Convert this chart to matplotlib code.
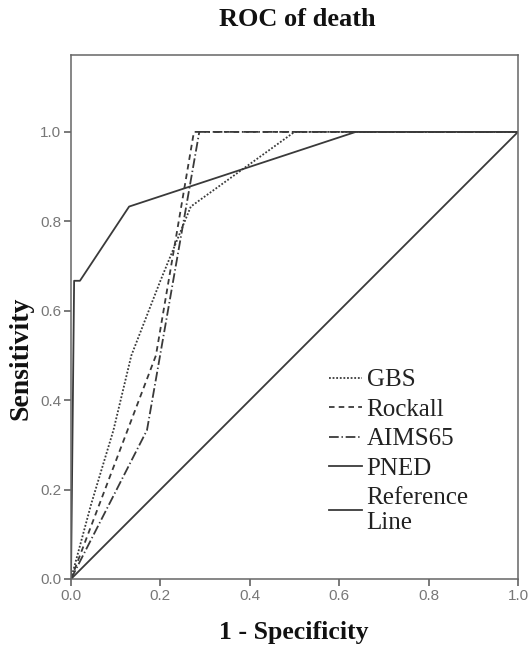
import numpy as np
import matplotlib.pyplot as plt

# ROC curve vertices (1 - specificity, sensitivity)
gbs_x = [0.0, 0.045, 0.095, 0.135, 0.20, 0.268, 0.50, 1.0]
gbs_y = [0.0, 0.167, 0.333, 0.50, 0.667, 0.833, 1.0, 1.0]
rockall_x = [0.0, 0.19, 0.275, 1.0]
rockall_y = [0.0, 0.50, 1.0, 1.0]
aims_x = [0.0, 0.17, 0.287, 1.0]
aims_y = [0.0, 0.333, 1.0, 1.0]
pned_x = [0.0, 0.007, 0.02, 0.13, 0.637, 1.0]
pned_y = [0.0, 0.667, 0.667, 0.833, 1.0, 1.0]
ref_x = [0.0, 1.0]
ref_y = [0.0, 1.0]
ticks = [0.0, 0.2, 0.4, 0.6, 0.8, 1.0]

plt.rcParams['lines.scale_dashes'] = False
W, H = 528, 649
fig = plt.figure(figsize=(W/100, H/100), dpi=100)
ax = fig.add_axes([71/W, 1-579/H, 447/W, 524/H])

c = '#3a3a3a'
lw = 1.3
ax.plot(gbs_x, gbs_y, color=c, lw=lw, linestyle=(0, (1.3, 1.3)), label='GBS')
ax.plot(rockall_x, rockall_y, color=c, lw=lw, linestyle=(0, (4, 3)), label='Rockall')
ax.plot(aims_x, aims_y, color=c, lw=lw, linestyle=(0, (7, 2, 1, 2)), label='AIMS65')
ax.plot(pned_x, pned_y, color=c, lw=lw, label='PNED')
ax.plot(ref_x, ref_y, color=c, lw=lw, label='Reference\nLine')

ax.set_xlim(0, 1)
ax.set_ylim(0, 1.172)
ax.set_xticks(ticks)
ax.set_yticks(ticks)
ax.set_xticklabels(['%.1f' % t for t in ticks])
ax.set_yticklabels(['%.1f' % t for t in ticks])
ax.tick_params(direction='out', length=5, width=1.1, color='#555555',
               labelsize=11, labelcolor='#777777', pad=2)
for lab in ax.get_xticklabels() + ax.get_yticklabels():
    lab.set_family('Liberation Sans')
for s in ax.spines.values():
    s.set_color('#666666')
    s.set_linewidth(1.1)

leg = ax.legend(loc='upper left', bbox_to_anchor=(329/W, 1-369/H),
                bbox_transform=fig.transFigure, frameon=False, borderpad=0,
                borderaxespad=0, handlelength=1.3, handletextpad=0.2,
                labelspacing=0.28, prop={'family': 'Liberation Serif', 'size': 18})
for t in leg.get_texts():
    t.set_color('#222222')

fig.text(297/W, 1-20/H, 'ROC of death', ha='center', va='center',
         family='Liberation Serif', weight='bold', size=19, color='#111111')
fig.text(294/W, 1-632/H, '1 - Specificity', ha='center', va='center',
         family='Liberation Serif', weight='bold', size=18.5, color='#111111')
fig.text(21/W, 1-358/H, 'Sensitivity', ha='center', va='center', rotation=90,
         family='Liberation Serif', weight='bold', size=20, color='#111111')

fig.savefig('out.png', dpi=100)
